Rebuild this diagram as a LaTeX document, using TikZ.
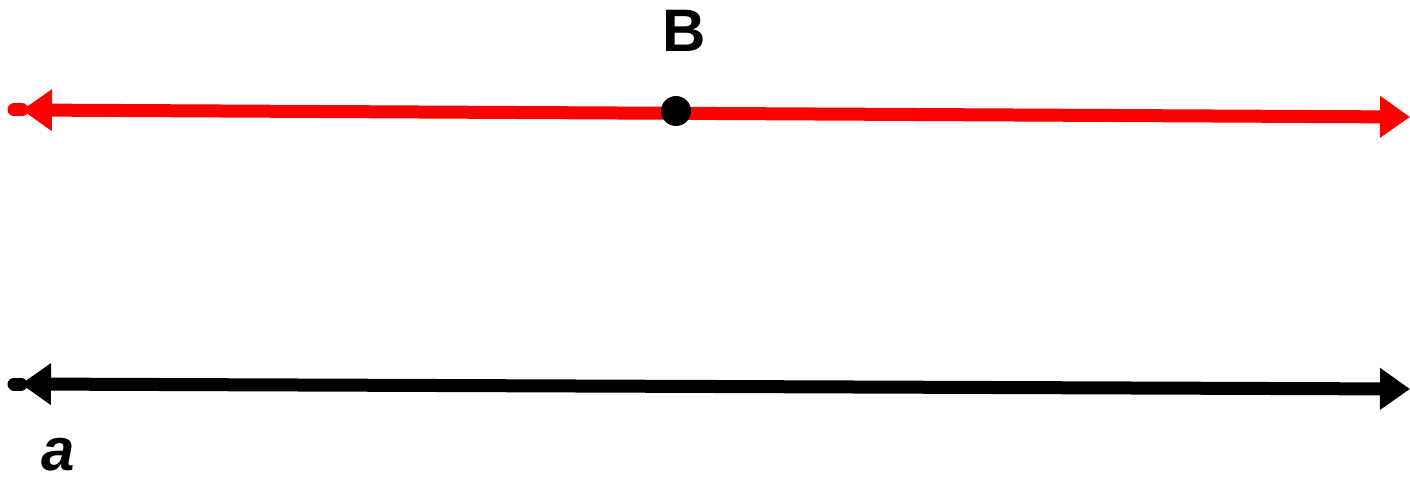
\documentclass[tikz,border=0pt]{standalone}
\usepackage{fontspec}
\setmainfont{Liberation Sans}
\usetikzlibrary{arrows.meta}
\begin{document}
\begin{tikzpicture}[x=1pt,y=-1pt,
  ln/.style={line width=13pt},
  lbl/.style={font=\fontsize{60}{60}\selectfont\bfseries, inner sep=0pt}]
\useasboundingbox (0,0) rectangle (1410,484);
% red line through B
\coordinate (rL) at (14,110);
\coordinate (rLt) at (22,110);
\coordinate (rR) at (1410,117);
\draw[ln, red, line cap=round] (rL) -- (rLt);
\draw[ln, red, {Triangle[length=30pt,width=40pt]}-{Triangle[length=30pt,width=40pt]}] (rLt) -- (rR);
\fill (676,111) circle (15pt) coordinate (B);
\node[lbl] (Blbl) at (684,31) {B};
% black line a
\coordinate (aL) at (14,384);
\coordinate (aLt) at (21,384);
\coordinate (aR) at (1410,389);
\draw[ln, black, line cap=round] (aL) -- (aLt);
\draw[ln, black, {Triangle[length=30pt,width=40pt]}-{Triangle[length=30pt,width=40pt]}] (aLt) -- (aR);
\node[lbl, font=\fontsize{60}{60}\selectfont\bfseries\itshape] (albl) at (58,455) {a};
\end{tikzpicture}
\end{document}
